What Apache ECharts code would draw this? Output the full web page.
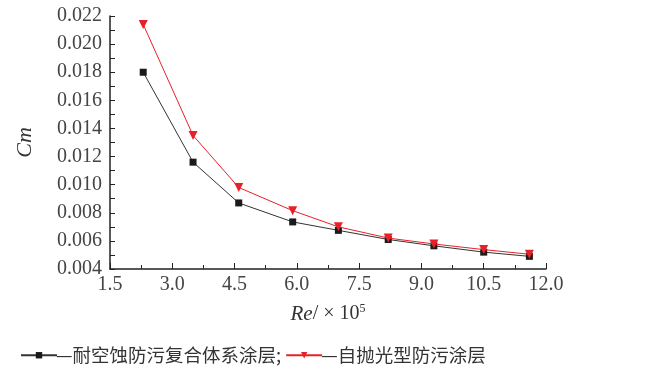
<!DOCTYPE html>
<html><head><meta charset="utf-8">
<script src="https://cdn.jsdelivr.net/npm/echarts@6/dist/echarts.min.js"></script>
<style>html,body{margin:0;padding:0;background:#fff}#c{width:650px;height:374px}</style>
</head><body><div id="c"></div>
<script>
const reValues = [2.3, 3.5, 4.6, 5.9, 7.0, 8.2, 9.3, 10.5, 11.6];
const seriesNames = ['耐空蚀防污复合体系涂层', '自抛光型防污涂层'];
const cmComposite = [0.0180, 0.01160, 0.00870, 0.00735, 0.00675, 0.00610, 0.00565, 0.00520, 0.00490];
const cmSelfPolish = [0.0214, 0.0135, 0.0098, 0.00815, 0.00700, 0.00620, 0.00578, 0.00538, 0.00505];

const serif = '"Liberation Serif", "DejaVu Serif", serif';
const chart = echarts.init(document.getElementById('c'));
chart.setOption({
  animation: false,
  backgroundColor: '#fff',
  grid: {left: 110, right: 104, top: 16, bottom: 105},
  xAxis: {
    type: 'value', min: 1.5, max: 12, interval: 1.5,
    name: '{i|Re}{n|/ × 10}{s|5}', nameLocation: 'middle', nameGap: 34,
    nameTextStyle: {rich: {
      i: {fontFamily: serif, fontStyle: 'italic', fontSize: 21, color: '#333'},
      n: {fontFamily: serif, fontSize: 20, color: '#333'},
      s: {fontFamily: serif, fontSize: 12, color: '#333', verticalAlign: 'top', padding: [0,0,10,0]}
    }},
    axisLine: {lineStyle: {color: '#222', width: 1.5}},
    axisTick: {inside: true, length: 6, lineStyle: {color: '#222'}},
    minorTick: {show: true, splitNumber: 2, length: 4, lineStyle: {color: '#222'}},
    splitLine: {show: false},
    axisLabel: {fontFamily: serif, fontSize: 20, color: '#444', margin: 6,
      formatter: v => v.toFixed(1)}
  },
  yAxis: {
    type: 'value', min: 0.004, max: 0.022, interval: 0.002,
    name: 'Cm', nameLocation: 'middle', nameGap: 74,
    nameTextStyle: {fontFamily: serif, fontStyle: 'italic', fontSize: 22, color: '#333'},
    axisLine: {show: true, lineStyle: {color: '#222', width: 1.5}},
    axisTick: {show: true, inside: true, length: 5, lineStyle: {color: '#222'}},
    minorTick: {show: true, splitNumber: 2, length: 5, lineStyle: {color: '#222'}},
    splitLine: {show: false},
    axisLabel: {fontFamily: serif, fontSize: 20, color: '#444', margin: 8,
      formatter: v => v.toFixed(3)}
  },
  legend: {
    left: 15, top: 341, itemWidth: 36, itemHeight: 8, itemGap: 4,
    textStyle: {fontFamily: '"Noto Sans CJK SC"', fontSize: 18.5, color: '#333', padding: [0,0,0,-6]},
    formatter: n => '—' + n + (n === seriesNames[0] ? ';' : ''),
    data: seriesNames
  },
  series: [
    {name: seriesNames[0], type: 'line', data: reValues.map((x, i) => [x, cmComposite[i]]),
     symbol: 'rect', symbolSize: 7, color: '#1a1a1a',
     lineStyle: {color: '#333', width: 1}, itemStyle: {color: '#1a1a1a'}, z: 2},
    {name: seriesNames[1], type: 'line', data: reValues.map((x, i) => [x, cmSelfPolish[i]]),
     symbol: 'triangle', symbolRotate: 180, symbolSize: 9, color: '#e8202a',
     lineStyle: {color: '#e8202a', width: 1}, itemStyle: {color: '#e8202a'}, z: 3}
  ]
});
</script></body></html>
